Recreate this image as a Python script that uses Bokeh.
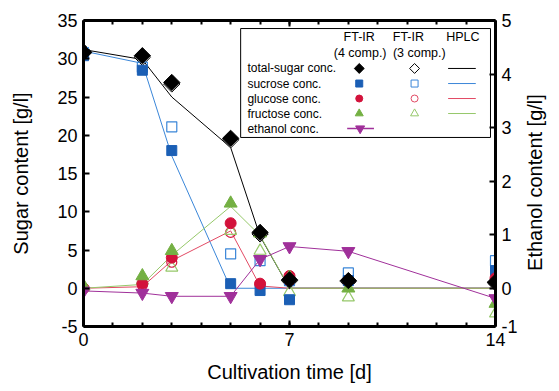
import numpy as np
from bokeh.plotting import figure
from bokeh.models import Range1d, LinearAxis, FixedTicker, Label
from bokeh.core.properties import value
from bokeh.embed import file_html
from bokeh.resources import INLINE

# ---------------- data ----------------
days = [0, 2, 3, 5, 6, 7, 9, 14]

total_ftir4 = [30.8, 30.4, 26.9, 19.6, 7.3, 1.1, 1.0, 0.8]
total_ftir3 = [30.9, 30.2, 26.7, 19.4, 7.1, 1.0, 0.9, 0.7]
total_hplc = [31.2, 29.9, 25.0, 18.4, 6.8, 0.0, 0.0, 0.0]

sucrose_ftir4 = [30.4, 28.5, 18.0, 0.6, -0.3, -1.5, 1.0, 2.3]
sucrose_ftir3 = [30.8, 28.9, 21.1, 4.5, 3.6, 1.0, 2.0, 3.6]
sucrose_hplc = [31.0, 29.4, 17.3, 0.0, 0.0, 0.0, 0.0, 0.0]

glucose_ftir4 = [0.0, 0.6, 4.0, 8.5, 0.6, 1.6, 1.0, 1.3]
glucose_ftir3 = [0.0, 0.4, 3.4, 7.3, 0.5, 1.0, 0.8, 1.0]
glucose_hplc = [0.0, 0.2, 3.6, 7.5, 0.3, 0.0, 0.0, 0.0]

fructose_ftir4 = [0.3, 1.6, 4.9, 11.1, 7.2, 1.4, 0.0, -2.0]
fructose_ftir3 = [0.1, 1.0, 2.7, 7.5, 4.9, -0.5, -1.2, -3.3]
fructose_hplc = [0.0, 0.5, 4.3, 10.7, 6.9, 0.0, 0.0, 0.0]

ethanol = [-0.05, -0.09, -0.15, -0.15, 0.54, 0.78, 0.69, -0.19]

x_ticks = [0, 7, 14]
y_ticks = [-5, 0, 5, 10, 15, 20, 25, 30, 35]
eth_ticks = [0, 1, 2, 3, 4, 5]

legend_rows = ["total-sugar conc.", "sucrose conc.", "glucose conc.", "fructose conc.", "ethanol conc."]

# ---------------- style ----------------
FONT = "Liberation Sans"
BLACK = "#000000"
BLUE = "#1b5fb5"
BLUE_L = "#3a86d8"
RED = "#d3123b"
RED_L = "#e24a64"
GREEN = "#74b043"
GREEN_L = "#96c86a"
PURPLE = "#a0309a"

ETH_MIN = -5.0 / 7.0  # aligns ethanol 0 with sugar 0

p = figure(width=559, height=391, output_backend="svg", toolbar_location=None,
           x_range=Range1d(0, 14), y_range=Range1d(-5, 35),
           min_border_left=83, min_border_right=59, min_border_top=20, min_border_bottom=65,
           background_fill_color="white", border_fill_color="white")
p.extra_y_ranges = {"eth": Range1d(ETH_MIN, 5)}
p.xgrid.visible = False
p.ygrid.visible = False
p.outline_line_color = None


def style(ax, labels=True):
    ax.axis_line_width = 3
    ax.axis_line_color = BLACK
    ax.major_tick_in = 6
    ax.major_tick_out = 0
    ax.minor_tick_in = 4
    ax.minor_tick_out = 0
    ax.major_tick_line_width = 2
    ax.minor_tick_line_width = 2
    ax.major_tick_line_color = BLACK
    ax.minor_tick_line_color = BLACK
    ax.major_label_text_font = FONT
    ax.major_label_text_font_size = "18px" if labels else "1px"
    ax.major_label_text_color = BLACK
    ax.major_label_standoff = 6 if labels else 0
    ax.axis_label_text_font = FONT
    ax.axis_label_text_font_size = "20px"
    ax.axis_label_text_font_style = "normal"
    ax.axis_label_text_color = BLACK


xax = p.xaxis[0]
xax.ticker = FixedTicker(ticks=x_ticks, minor_ticks=list(range(0, 15)))
xax.axis_label = "Cultivation time [d]"
style(xax)
xax.axis_label_standoff = 12

yax = p.yaxis[0]
yax.ticker = FixedTicker(ticks=y_ticks, minor_ticks=[])
yax.axis_label = "Sugar content [g/l]"
style(yax)
yax.major_label_overrides = {-5: "-5"}
yax.axis_label_standoff = 22

top = LinearAxis(ticker=FixedTicker(ticks=x_ticks, minor_ticks=list(range(0, 15))))
style(top, labels=False)
top.major_label_overrides = {t: "" for t in x_ticks}
p.add_layout(top, "above")

rax = LinearAxis(y_range_name="eth", ticker=FixedTicker(ticks=[ETH_MIN] + eth_ticks, minor_ticks=[]))
style(rax)
rax.major_label_overrides = {ETH_MIN: "-1"}
rax.axis_label_standoff = 14
if hasattr(rax, "axis_label_orientation") and hasattr(rax, "axis_label_align"):
    # rotated to read bottom-to-top; anchored at the bottom end of the axis and
    # shifted up with non-breaking spaces so it sits where the original's title is
    rax.axis_label = "\u00a0" * 10 + "Ethanol content [g/l]"
    rax.axis_label_orientation = np.pi / 2
    rax.axis_label_align = "start"
else:
    rax.axis_label = "Ethanol content [g/l]"
p.add_layout(rax, "right")

# ---------------- legend box (drawn under data) ----------------
LX0, LX1, LY0, LY1 = 5.34, 13.83, 19.71, 33.95
p.quad(left=[LX0], right=[LX1], bottom=[LY0], top=[LY1], fill_color="white",
       line_color=BLACK, line_width=1)
row_y = [28.73, 26.76, 24.80, 22.84, 20.88]
C1, C2, H0, H1 = 9.37, 11.25, 12.39, 13.33
p.text(x=[5.57] * 5, y=row_y, text=legend_rows, text_font=value(FONT), text_font_size="12px",
       text_align="left", text_baseline="middle", text_color=BLACK)
p.text(x=[9.37, 11.04, 12.89], y=[32.78] * 3, text=["FT-IR", "FT-IR", "HPLC"], text_font=value(FONT),
       text_font_size="12.5px", text_align="center", text_baseline="middle", text_color=BLACK)
p.text(x=[9.40, 11.41], y=[30.69] * 2, text=["(4 comp.)", "(3 comp.)"], text_font=value(FONT),
       text_font_size="12.5px", text_align="center", text_baseline="middle", text_color=BLACK)
# legend markers
p.scatter([C1], [row_y[0]], marker="square", angle=np.pi / 4, size=7, fill_color=BLACK, line_color=BLACK)
p.scatter([C2], [row_y[0]], marker="square", angle=np.pi / 4, size=7, fill_color="white", line_color=BLACK)
p.scatter([C1], [row_y[1]], marker="square", size=7, fill_color=BLUE, line_color=BLUE)
p.scatter([C2], [row_y[1]], marker="square", size=7, fill_color="white", line_color=BLUE_L)
p.scatter([C1], [row_y[2]], marker="circle", size=7, fill_color=RED, line_color=RED)
p.scatter([C2], [row_y[2]], marker="circle", size=7, fill_color="white", line_color=RED_L)
p.scatter([C1], [row_y[3]], marker="triangle", size=8, fill_color=GREEN, line_color=GREEN)
p.scatter([C2], [row_y[3]], marker="triangle", size=8, fill_color="white", line_color=GREEN_L)
for yy, cc in zip(row_y[:4], [BLACK, BLUE_L, RED_L, GREEN_L]):
    p.segment(x0=[H0], x1=[H1], y0=[yy], y1=[yy], line_color=cc, line_width=1)
p.segment(x0=[8.96], x1=[9.87], y0=[row_y[4]], y1=[row_y[4]], line_color=PURPLE, line_width=1.5)
p.scatter([9.40], [row_y[4]], marker="inverted_triangle", size=9, fill_color=PURPLE, line_color=PURPLE)

# ---------------- HPLC lines ----------------
p.line(days, total_hplc, line_color=BLACK, line_width=1)
p.line(days, sucrose_hplc, line_color=BLUE_L, line_width=1)
p.line(days, glucose_hplc, line_color=RED_L, line_width=1)
p.line(days, fructose_hplc, line_color=GREEN_L, line_width=1)

# ---------------- FT-IR 3 comp (open) ----------------
p.scatter(days, total_ftir3, marker="square", angle=np.pi / 4, size=11.5, fill_color="white",
          line_color=BLACK, line_width=1)
p.scatter(days, sucrose_ftir3, marker="square", size=10, fill_color="white", fill_alpha=0,
          line_color=BLUE_L, line_width=1.2)
p.scatter(days, glucose_ftir3, marker="circle", size=10, fill_color="white", fill_alpha=0,
          line_color=RED, line_width=1.2)
p.scatter(days, fructose_ftir3, marker="triangle", size=12, fill_color="white", fill_alpha=0,
          line_color=GREEN_L, line_width=1.2)

# ---------------- FT-IR 4 comp (filled) ----------------
p.scatter(days, sucrose_ftir4, marker="square", size=10, fill_color=BLUE, line_color=BLUE)
p.scatter(days, glucose_ftir4, marker="circle", size=11, fill_color=RED, line_color=RED)
p.scatter(days, fructose_ftir4, marker="triangle", size=13, fill_color=GREEN, line_color=GREEN)

# ---------------- ethanol ----------------
p.line(days, ethanol, y_range_name="eth", line_color=PURPLE, line_width=1)
p.scatter(days, ethanol, y_range_name="eth", marker="inverted_triangle", size=13,
          fill_color=PURPLE, line_color=PURPLE)

# ---------------- total sugar (filled diamonds on top) ----------------
p.scatter(days, total_ftir4, marker="square", angle=np.pi / 4, size=11.5, fill_color=BLACK,
          line_color=BLACK)

# stray partial label at the left edge of the original image
p.add_layout(Label(x=-2.65, y=-6.3, text="0", text_font=FONT, text_font_size="18px",
                   text_align="right", text_baseline="middle", text_color=BLACK))

open("out.html", "w").write(file_html(p, INLINE))
